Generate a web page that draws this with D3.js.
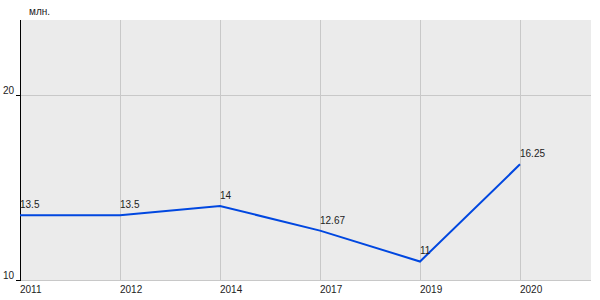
<!DOCTYPE html>
<html><head><meta charset="utf-8">
<script src="https://cdn.jsdelivr.net/npm/d3@7"></script>
<style>body{margin:0;background:#fff}svg{display:block;font-family:Arial,"Liberation Sans",sans-serif}</style>
</head><body><svg id="c" width="600" height="300"></svg>
<script>
const categories = ["2011","2012","2014","2017","2019","2020"];
const values = [13.5, 13.5, 14, 12.67, 11, 16.25];
const valueLabels = ["13.5","13.5","14","12.67","11","16.25"];
const yTicks = [10, 20];
const unitLabel = "млн.";

(function(){
const svg = d3.select("#c");
const pl = 20, pr = 591, pt = 20, pb = 280;
const x = d3.scalePoint().domain(categories).range([pl, pl + 500]);
const y = d3.scaleLinear().domain([10, 24.05]).range([pb, pt]);

svg.append("rect").attr("x", pl).attr("y", pt).attr("width", pr - pl).attr("height", pb - pt).attr("fill", "#ebebeb");

// vertical grid
svg.append("g").selectAll("line").data(categories).join("line")
  .attr("x1", d => x(d) + 0.5).attr("x2", d => x(d) + 0.5)
  .attr("y1", pt).attr("y2", pb).attr("stroke", "#c8c8c8").attr("stroke-width", 1);
// horizontal grid
svg.append("g").selectAll("line").data(yTicks).join("line")
  .attr("x1", pl).attr("x2", pr)
  .attr("y1", d => Math.round(y(d)) + 0.5).attr("y2", d => Math.round(y(d)) + 0.5)
  .attr("stroke", "#c8c8c8").attr("stroke-width", 1);

// left axis
svg.append("line").attr("x1", pl + 0.5).attr("x2", pl + 0.5).attr("y1", pt).attr("y2", pb + 1).attr("stroke", "#000");
svg.append("g").selectAll("line").data(yTicks).join("line")
  .attr("x1", pl - 4).attr("x2", pl)
  .attr("y1", d => Math.round(y(d)) + 0.5).attr("y2", d => Math.round(y(d)) + 0.5).attr("stroke", "#000");
svg.append("g").selectAll("text").data(yTicks).join("text")
  .attr("x", pl - 6).attr("y", d => y(d) - 1).attr("text-anchor", "end")
  .attr("font-size", 10).attr("fill", "#222").text(d => d);

// x labels
svg.append("g").selectAll("text").data(categories).join("text")
  .attr("x", d => x(d)).attr("y", 293).attr("font-size", 10).attr("fill", "#222").text(d => d);

svg.append("text").attr("x", 29).attr("y", 15).attr("font-size", 10).attr("fill", "#222").text(unitLabel);

// line
const pts = categories.map((c, i) => [x(c), y(values[i])]);
svg.append("path").attr("d", d3.line()(pts)).attr("fill", "none").attr("stroke", "#0047e0").attr("stroke-width", 2);

svg.append("g").selectAll("text").data(categories).join("text")
  .attr("x", d => x(d)).attr("y", (d, i) => y(values[i]) - 7)
  .attr("font-size", 10).attr("fill", "#222").text((d, i) => valueLabels[i]);
})();
</script></body></html>
